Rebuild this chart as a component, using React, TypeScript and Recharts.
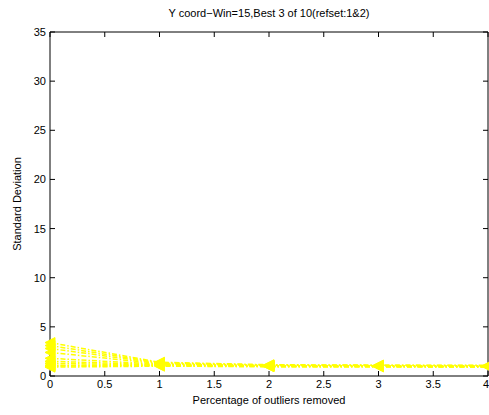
import { LineChart, Line, XAxis, YAxis, ReferenceLine } from "recharts"

const outliersRemoved = [0, 1, 2, 3, 4]

const run1 = [3.4, 1.4, 1.15, 1.1, 1.1]
const run2 = [3.1, 1.35, 1.1, 1.1, 1.05]
const run3 = [2.8, 1.3, 1.1, 1.05, 1.05]
const run4 = [2.4, 1.25, 1.05, 1.05, 1.0]
const run5 = [1.8, 1.2, 1.05, 1.0, 1.0]
const run6 = [1.5, 1.15, 1.0, 1.0, 1.0]
const run7 = [1.3, 1.1, 1.0, 1.0, 0.95]
const run8 = [1.1, 1.1, 1.0, 0.95, 0.95]
const run9 = [1.0, 1.05, 0.95, 0.95, 0.95]
const run10 = [0.9, 1.0, 0.95, 0.95, 0.9]

const runs = [run1, run2, run3, run4, run5, run6, run7, run8, run9, run10]

const xTicks = [0, 0.5, 1, 1.5, 2, 2.5, 3, 3.5, 4]
const yTicks = [0, 5, 10, 15, 20, 25, 30, 35]

const data = outliersRemoved.map((x, i) => {
  const row: Record<string, number> = { x }
  runs.forEach((r, k) => {
    row["run" + (k + 1)] = r[i]
  })
  return row
})

const font = "'Liberation Sans', Arial, sans-serif"
const plotTop = 32
const plotRight = 488

function TriangleLeft(props: any) {
  const { cx, cy } = props
  if (cx == null || cy == null) return null
  const s = 5
  return (
    <polygon
      points={`${cx - s},${cy} ${cx + s},${cy - s} ${cx + s},${cy + s}`}
      fill="#ffff00"
      stroke="#ffff00"
      strokeWidth={1}
    />
  )
}

function XTick(props: any) {
  const { x, y, payload } = props
  const last = payload.value === 4
  return (
    <g>
      <line x1={x} x2={x} y1={y} y2={y - 5} stroke="#000" />
      <line x1={x} x2={x} y1={plotTop} y2={plotTop + 5} stroke="#000" />
      <text
        x={last ? x + 1 : x}
        y={y + 12}
        textAnchor={last ? "end" : "middle"}
        fontSize={11}
        fontFamily={font}
        fill="#000"
      >
        {payload.value}
      </text>
    </g>
  )
}

function YTick(props: any) {
  const { x, y, payload } = props
  return (
    <g>
      <line x1={x} x2={x + 5} y1={y} y2={y} stroke="#000" />
      <line x1={plotRight - 5} x2={plotRight} y1={y} y2={y} stroke="#000" />
      <text x={x - 4} y={y + 4} textAnchor="end" fontSize={11} fontFamily={font} fill="#000">
        {payload.value}
      </text>
    </g>
  )
}

export default function App() {
  return (
    <div style={{ position: "absolute", left: 0, top: 0, width: 489, height: 415, background: "#fff", fontFamily: font }}>
      <div style={{ position: "absolute", left: 50, width: 438, top: 7, textAlign: "center", fontSize: 11, color: "#000" }}>
        Y coord−Win=15,Best 3 of 10(refset:1&amp;2)
      </div>
      <div
        style={{
          position: "absolute",
          left: 17,
          top: 204,
          fontSize: 11,
          transform: "translate(-50%, -50%) rotate(-90deg)",
          whiteSpace: "nowrap",
        }}
      >
        Standard Deviation
      </div>
      <div style={{ position: "absolute", left: 50, width: 438, top: 394, textAlign: "center", fontSize: 11 }}>
        Percentage of outliers removed
      </div>
      <LineChart width={489} height={415} data={data} margin={{ top: plotTop, right: 1, bottom: 0, left: 0 }}>
        <XAxis
          dataKey="x"
          type="number"
          domain={[0, 4]}
          ticks={xTicks}
          interval={0}
          height={39}
          stroke="#000"
          tickLine={false}
          tickSize={0}
          tickMargin={0}
          tick={<XTick />}
        />
        <YAxis
          type="number"
          domain={[0, 35]}
          ticks={yTicks}
          interval={0}
          width={50}
          stroke="#000"
          tickLine={false}
          tickSize={0}
          tickMargin={0}
          tick={<YTick />}
        />
        <ReferenceLine y={35} stroke="#000" />
        <ReferenceLine x={4} stroke="#000" />
        {runs.map((_, k) => (
          <Line
            key={k}
            type="linear"
            dataKey={"run" + (k + 1)}
            stroke="#ffff00"
            strokeWidth={1.5}
            strokeDasharray="5 2 1.5 2"
            dot={<TriangleLeft />}
            activeDot={false}
            isAnimationActive={false}
          />
        ))}
      </LineChart>
    </div>
  )
}
